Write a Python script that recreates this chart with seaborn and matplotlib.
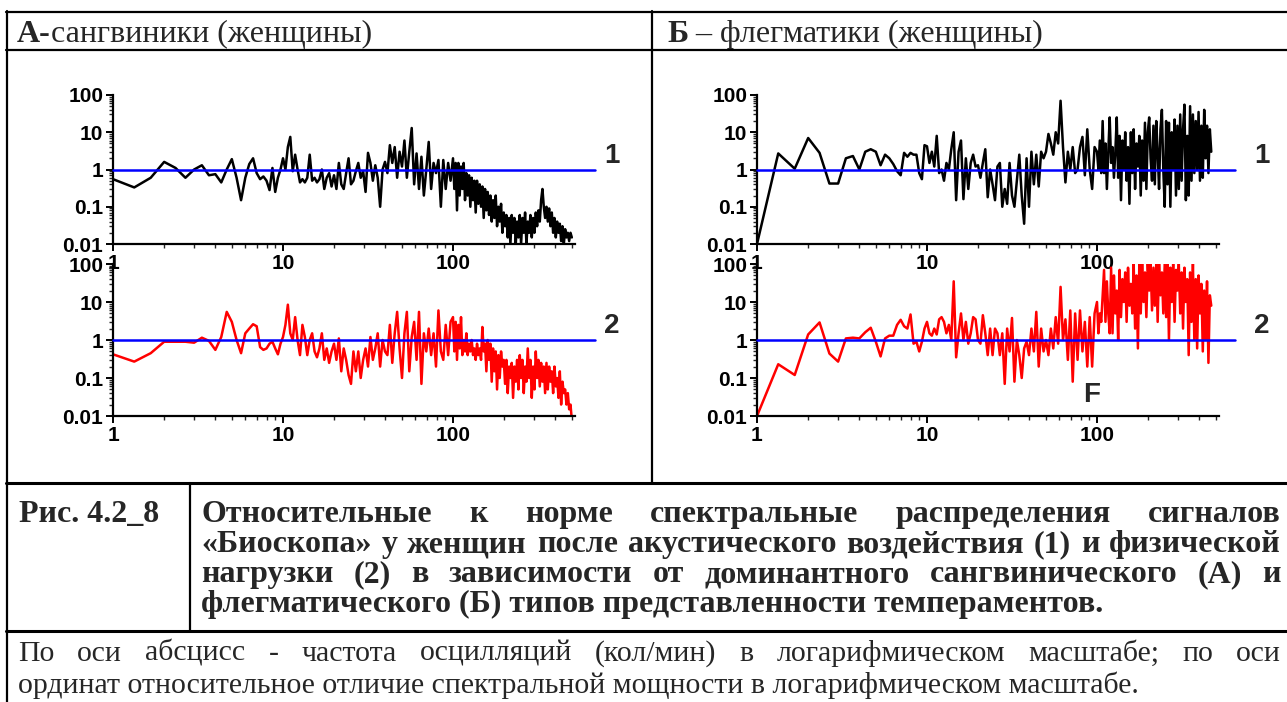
import numpy as np
import pandas as pd
import matplotlib
matplotlib.use("Agg")
import matplotlib.pyplot as plt
import seaborn as sns
from matplotlib.ticker import LogLocator, NullFormatter

W, H = 1287, 702

# ---------------------------------------------------------------- data
# frequency grid, osc/min
F_LOW = np.arange(3, 30) / 3.0                 # 1 ... 9.67, step 1/3
F_MID = np.logspace(1, 2, 71)[:-1]             # 10 ... 97
F_HIGH_A = np.logspace(2, np.log10(500), 90)   # 100 ... 500
F_HIGH_B = np.logspace(2, np.log10(470), 82)   # 100 ... 470

# A, curve 1 (acoustic load)
A1_LOW = [0.55, 0.33, 0.6, 1.6, 1.1, 0.6, 1.0, 1.3, 0.7, 0.75,
          0.45, 1.0, 1.9, 0.6, 0.15, 0.6, 1.4, 2.0, 0.8, 0.55,
          0.65, 0.5, 0.28, 1.1, 0.25, 0.6, 1.0]
A1_MID = [2.0, 1.0, 4.0, 7.5, 0.9, 2.5, 1.0, 0.45, 0.55, 0.45,
          0.6, 2.5, 0.5, 0.6, 0.45, 0.55, 1.0, 0.3, 0.6, 0.8,
          0.35, 0.7, 0.3, 1.5, 0.4, 0.3, 0.8, 2.0, 0.4, 0.5,
          0.9, 1.5, 0.6, 0.9, 0.25, 2.8, 1.5, 0.5, 1.3, 0.6,
          0.1, 1.0, 1.6, 0.8, 4.5, 1.5, 4.0, 0.6, 3.0, 1.2,
          6.0, 0.6, 3.0, 13.0, 0.4, 2.7, 0.3, 2.2, 0.2, 1.0,
          5.5, 0.3, 1.5, 0.8, 1.8, 0.1, 1.8, 0.3, 1.5, 0.5]
A1_HIGH = [2.0, 0.3, 1.5, 0.08, 1.5, 0.2, 1.2, 0.3, 1.5, 0.15,
           0.8, 0.2, 0.7, 0.1, 0.6, 0.15, 0.5, 0.07, 0.5, 0.12,
           0.4, 0.1, 0.35, 0.05, 0.3, 0.08, 0.25, 0.06, 0.2, 0.04,
           0.15, 0.05, 0.2, 0.03, 0.1, 0.04, 0.12, 0.02, 0.07, 0.03,
           0.06, 0.015, 0.05, 0.01, 0.06, 0.02, 0.05, 0.01, 0.04, 0.015,
           0.06, 0.01, 0.05, 0.02, 0.07, 0.01, 0.04, 0.02, 0.06, 0.015,
           0.05, 0.02, 0.07, 0.03, 0.08, 0.04, 0.15, 0.3, 0.1, 0.05,
           0.1, 0.04, 0.09, 0.03, 0.07, 0.02, 0.05, 0.015, 0.04, 0.02,
           0.035, 0.012, 0.03, 0.01, 0.025, 0.015, 0.02, 0.012, 0.02, 0.015]

# A, curve 2 (physical load)
A2_LOW = [0.42, 0.27, 0.45, 0.9, 0.9, 0.9, 0.85, 1.15, 0.95, 0.55,
          1.2, 5.5, 3.0, 1.0, 0.45, 1.5, 2.0, 2.6, 2.3, 0.65,
          0.55, 0.6, 0.8, 0.9, 0.6, 0.42, 0.8]
A2_MID = [1.2, 2.5, 8.5, 1.5, 1.0, 4.0, 1.0, 0.4, 2.5, 1.2,
          0.4, 1.0, 1.5, 0.5, 0.35, 0.6, 1.5, 0.3, 0.6, 0.25,
          0.5, 0.8, 0.3, 1.1, 0.15, 0.6, 0.3, 0.12, 0.07, 0.5,
          0.15, 0.5, 0.1, 0.3, 0.6, 0.2, 1.2, 0.3, 0.6, 1.5,
          0.2, 1.0, 0.5, 0.4, 2.5, 0.25, 1.5, 5.5, 0.6, 0.1,
          1.5, 5.5, 0.15, 1.2, 3.0, 0.3, 5.5, 0.07, 1.5, 0.5,
          2.0, 0.4, 1.5, 0.2, 6.0, 0.5, 0.3, 2.5, 0.4, 3.0]
A2_HIGH = [4.0, 0.5, 3.0, 0.3, 2.5, 0.6, 4.0, 0.4, 1.0, 0.5,
           1.5, 0.4, 0.8, 0.5, 1.0, 0.4, 0.6, 0.3, 0.8, 0.4,
           0.6, 0.3, 2.2, 0.5, 0.8, 0.15, 1.0, 0.3, 0.8, 0.08,
           0.6, 0.15, 0.5, 0.05, 0.4, 0.1, 0.5, 0.2, 0.3, 0.07,
           0.3, 0.04, 0.2, 0.1, 0.25, 0.03, 0.2, 0.08, 0.3, 0.05,
           0.4, 0.1, 0.3, 0.04, 0.2, 0.08, 0.6, 0.1, 0.3, 0.03,
           0.2, 0.05, 0.5, 0.1, 0.3, 0.06, 0.25, 0.08, 0.2, 0.04,
           0.25, 0.05, 0.2, 0.08, 0.15, 0.04, 0.2, 0.06, 0.1, 0.03,
           0.15, 0.02, 0.08, 0.04, 0.05, 0.02, 0.04, 0.015, 0.02, 0.008]

# Б, curve 1 (acoustic load)
B1_LOW = [0.01, 2.7, 1.05, 7.0, 2.8, 0.42, 0.42, 2.0, 2.3, 1.0,
          3.0, 3.5, 3.0, 1.3, 2.5, 2.0, 1.4, 0.9, 0.7, 2.8,
          2.2, 2.8, 2.5, 2.5, 0.8, 0.55, 4.5]
B1_MID = [4.2, 1.5, 3.0, 1.2, 8.0, 0.8, 1.0, 0.5, 1.5, 1.0,
          3.5, 10.0, 0.15, 3.0, 6.0, 0.16, 2.0, 0.3, 1.5, 2.5,
          1.2, 1.3, 0.6, 1.5, 3.5, 0.18, 1.0, 0.4, 0.15, 1.2,
          1.5, 0.1, 0.3, 0.12, 1.5, 0.2, 0.1, 0.5, 2.5, 0.2,
          0.035, 2.0, 0.1, 3.0, 0.4, 2.5, 0.35, 3.0, 2.0, 3.0,
          9.0, 5.0, 2.5, 10.0, 5.0, 70.0, 4.0, 0.45, 3.0, 1.0,
          4.0, 0.8, 1.0, 4.0, 7.5, 0.7, 12.0, 1.0, 0.3, 4.0]
B1_HIGH = [3.0, 1.0, 6.0, 0.8, 20.0, 0.8, 5.0, 0.3, 3.0, 25.0,
           1.5, 4.0, 0.6, 3.0, 25.0, 0.6, 8.0, 0.15, 6.0, 1.0,
           10.0, 0.5, 4.0, 0.12, 10.0, 0.8, 12.0, 0.3, 5.0, 1.2,
           8.0, 0.2, 6.0, 0.5, 18.0, 0.3, 10.0, 25.0, 2.0, 0.5,
           15.0, 0.4, 20.0, 3.0, 0.3, 12.0, 40.0, 1.0, 0.1, 20.0,
           0.4, 18.0, 0.1, 10.0, 1.0, 22.0, 0.2, 15.0, 0.3, 30.0,
           0.5, 12.0, 55.0, 0.15, 8.0, 0.2, 50.0, 0.5, 30.0, 0.8,
           20.0, 1.0, 35.0, 0.5, 15.0, 0.6, 40.0, 2.0, 15.0, 0.8,
           12.0, 3.0]

# Б, curve 2 (physical load)
B2_LOW = [0.01, 0.23, 0.12, 1.4, 2.9, 0.44, 0.27, 1.1, 1.15, 1.1,
          1.6, 2.1, 0.9, 0.37, 1.1, 1.3, 1.3, 2.5, 3.4, 2.3,
          2.0, 4.7, 0.8, 0.9, 0.5, 0.9, 2.0]
B2_MID = [3.0, 1.5, 1.3, 2.0, 1.4, 3.5, 4.0, 3.0, 1.5, 2.5,
          1.0, 35.0, 0.35, 1.5, 5.0, 1.0, 3.0, 0.8, 1.5, 4.0,
          3.5, 1.0, 0.8, 4.5, 1.5, 0.4, 2.0, 0.4, 2.0, 1.5,
          0.4, 1.5, 0.07, 2.0, 0.5, 3.8, 0.08, 1.0, 0.4, 0.1,
          0.6, 0.9, 0.4, 2.0, 0.5, 5.5, 0.2, 2.0, 0.5, 1.0,
          0.4, 2.0, 0.6, 4.0, 0.8, 25.0, 1.0, 3.5, 0.3, 6.0,
          0.08, 5.0, 0.3, 6.0, 0.5, 3.0, 0.2, 4.0, 0.2, 5.0]
B2_HIGH = [10.0, 1.5, 5.0, 3.0, 14.0, 70.0, 3.0, 35.0, 5.0, 1.5,
           80.0, 1.5, 50.0, 5.0, 20.0, 1.0, 70.0, 4.0, 40.0, 10.0,
           60.0, 3.0, 80.0, 8.0, 30.0, 5.0, 100.0, 2.0, 50.0, 0.6,
           100.0, 5.0, 100.0, 10.0, 60.0, 4.0, 100.0, 20.0, 100.0, 6.0,
           80.0, 8.0, 100.0, 3.0, 100.0, 15.0, 60.0, 5.0, 100.0, 4.0,
           100.0, 1.0, 80.0, 10.0, 100.0, 3.0, 70.0, 20.0, 100.0, 5.0,
           60.0, 2.0, 80.0, 10.0, 40.0, 0.4, 60.0, 3.0, 100.0, 1.0,
           40.0, 0.6, 50.0, 5.0, 30.0, 0.5, 20.0, 1.0, 35.0, 0.25,
           15.0, 8.0]

X_TICKS = [1, 10, 100]
X_TICK_LABELS = ["1", "10", "100"]
Y_TICKS = [0.01, 0.1, 1, 10, 100]
Y_TICK_LABELS = ["0.01", "0.1", "1", "10", "100"]
NORM = 1.0

HEADER_A = ("А-", "сангвиники (женщины)")
HEADER_B = ("Б", " – флегматики (женщины)")
FIG_NO = "Рис. 4.2_8"
CAPTION = [
    "Относительные к норме спектральные распределения сигналов",
    "«Биоскопа» у женщин после акустического воздействия (1) и физической",
    "нагрузки (2) в зависимости от доминантного сангвинического (А) и",
    "флегматического (Б) типов представленности темпераментов.",
]
NOTE = [
    "По оси абсцисс - частота осцилляций (кол/мин) в логарифмическом масштабе; по оси",
    "ординат относительное отличие спектральной мощности в логарифмическом масштабе.",
]


def series(low, mid, high, f_high):
    f = np.concatenate([F_LOW, F_MID, f_high])
    v = np.concatenate([low, mid, high])
    return pd.DataFrame({"freq": f, "power": v})


panels = {
    "A1": (series(A1_LOW, A1_MID, A1_HIGH, F_HIGH_A), "black"),
    "A2": (series(A2_LOW, A2_MID, A2_HIGH, F_HIGH_A), "#ff0000"),
    "B1": (series(B1_LOW, B1_MID, B1_HIGH, F_HIGH_B), "black"),
    "B2": (series(B2_LOW, B2_MID, B2_HIGH, F_HIGH_B), "#ff0000"),
}

# ---------------------------------------------------------------- figure
sns.set_theme(style="ticks")
plt.rcParams["font.family"] = ["Liberation Sans", "DejaVu Sans"]
fig = plt.figure(figsize=(W / 100, H / 100), dpi=100)
fig.patch.set_facecolor("white")

XMAX = 520
DECADE_PX = 170
AX_W = DECADE_PX * np.log10(XMAX)


def make_axes(left_px, top_px, bottom_px):
    return fig.add_axes([left_px / W, 1 - bottom_px / H,
                         AX_W / W, (bottom_px - top_px) / H])


layout = {
    "A1": (113, 95, 244, 680),
    "A2": (113, 264, 416, 680),
    "B1": (757, 95, 244, 650),
    "B2": (757, 264, 416, 650),
}

for key, (left, top, bottom, norm_end) in layout.items():
    df, color = panels[key]
    ax = make_axes(left, top, bottom)
    ax.set_facecolor("none")
    sns.lineplot(data=df, x="freq", y="power", ax=ax, color=color,
                 linewidth=1.8, estimator=None, sort=False, legend=False)
    ax.set_xscale("log")
    ax.set_yscale("log")
    ax.set_xlim(1, XMAX)
    ax.set_ylim(0.01, 100)
    ax.axhline(NORM, xmin=0, xmax=np.log10(norm_end) / np.log10(XMAX),
               color="#0000ff", linewidth=1.8, clip_on=False, zorder=5)
    ax.set_xticks(X_TICKS)
    ax.set_xticklabels(X_TICK_LABELS, fontweight="bold", fontsize=15)
    ax.set_yticks(Y_TICKS)
    ax.set_yticklabels(Y_TICK_LABELS, fontweight="bold", fontsize=15)
    for axis in (ax.xaxis, ax.yaxis):
        axis.set_minor_locator(LogLocator(base=10, subs=np.arange(2, 10), numticks=20))
        axis.set_minor_formatter(NullFormatter())
    ax.tick_params(which="major", direction="out", length=5, width=1.4,
                   pad=2, colors="black")
    ax.tick_params(which="minor", direction="out", length=3, width=1.0)
    ax.set_xlabel("")
    ax.set_ylabel("")
    sns.despine(ax=ax)
    for s in ("left", "bottom"):
        ax.spines[s].set_linewidth(1.6)
        ax.spines[s].set_color("black")

# curve numbers and marker
lab_kw = dict(ha="center", va="center", fontsize=20, fontweight="bold",
              family="Liberation Sans")
fig.text(612 / W, 1 - 156 / H, "1", **lab_kw)
fig.text(612 / W, 1 - 326 / H, "2", **lab_kw)
fig.text(1262 / W, 1 - 156 / H, "1", **lab_kw)
fig.text(1262 / W, 1 - 326 / H, "2", **lab_kw)
fig.text(1092 / W, 1 - 395 / H, "F", **lab_kw)

# ---------------------------------------------------------------- table frame
def hline(y, x0, x1, lw):
    fig.add_artist(plt.Line2D([x0 / W, x1 / W], [1 - y / H, 1 - y / H],
                              color="black", linewidth=lw,
                              transform=fig.transFigure))


def vline(x, y0, y1, lw):
    fig.add_artist(plt.Line2D([x / W, x / W], [1 - y0 / H, 1 - y1 / H],
                              color="black", linewidth=lw,
                              transform=fig.transFigure))


hline(12, 6, W, 1.6)
hline(50, 6, W, 1.6)
hline(483, 6, W, 2.2)
hline(631, 6, W, 2.2)
vline(7, 11, H, 1.6)
vline(652, 11, 483, 1.6)
vline(190, 483, 631, 1.6)

# ---------------------------------------------------------------- text
renderer = fig.canvas.get_renderer()
SERIF = ["Liberation Serif", "DejaVu Serif"]


def width_of(t):
    return t.get_window_extent(renderer).width


def put(x, ybase, s, **kw):
    return fig.text(x / W, 1 - ybase / H, s, ha="left", va="baseline",
                    family=SERIF, **kw)


def put_mixed(x, ybase, bold_part, plain_part, size):
    t = put(x, ybase, bold_part, fontsize=size, fontweight="bold")
    put(x + width_of(t), ybase, plain_part, fontsize=size)


def put_justified(x0, x1, ybase, line, size, weight):
    words = line.split(" ")
    texts = [put(0, ybase, w, fontsize=size, fontweight=weight) for w in words]
    widths = [width_of(t) for t in texts]
    gap = (x1 - x0 - sum(widths)) / (len(words) - 1)
    x = x0
    for t, w in zip(texts, widths):
        t.set_x(x / W)
        x += w + gap


HEAD_SIZE = 23
put_mixed(17, 42, HEADER_A[0], HEADER_A[1], HEAD_SIZE)
put_mixed(667, 42, HEADER_B[0], HEADER_B[1], HEAD_SIZE)

CAP_SIZE = 23
put(19, 522, FIG_NO, fontsize=CAP_SIZE, fontweight="bold")
cap_base = [522, 552, 582, 612]
for i, line in enumerate(CAPTION):
    if i < len(CAPTION) - 1:
        put_justified(201, 1281, cap_base[i], line, CAP_SIZE, "bold")
    else:
        put(201, cap_base[i], line, fontsize=CAP_SIZE, fontweight="bold")

NOTE_SIZE = 21.5
note_base = [661, 693]
put_justified(18, 1281, note_base[0], NOTE[0], NOTE_SIZE, "normal")
put(18, note_base[1], NOTE[1], fontsize=NOTE_SIZE)

fig.savefig("out.png", dpi=100, facecolor="white")
